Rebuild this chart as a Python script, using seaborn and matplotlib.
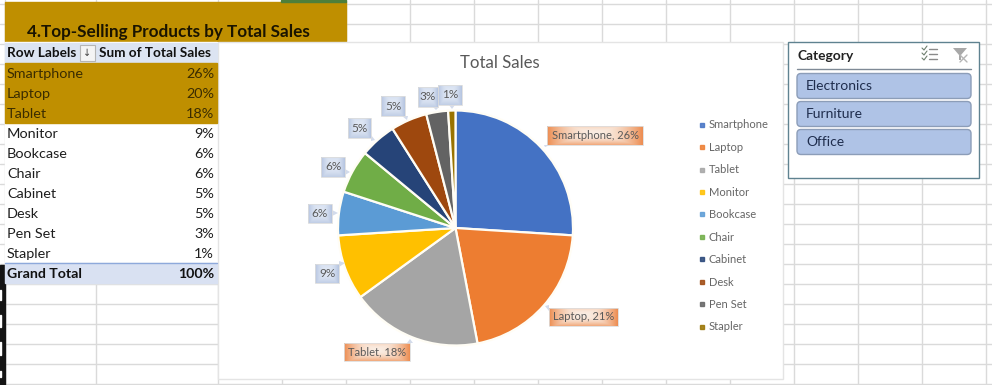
import numpy as np
import pandas as pd
import matplotlib
matplotlib.use('Agg')
import matplotlib.pyplot as plt
from matplotlib.patches import Rectangle, FancyBboxPatch, Polygon
from matplotlib.lines import Line2D
import seaborn as sns

# data
products = ['Smartphone', 'Laptop', 'Tablet', 'Monitor', 'Bookcase', 'Chair', 'Cabinet', 'Desk', 'Pen Set', 'Stapler']
table_pct = [26, 20, 18, 9, 6, 6, 5, 5, 3, 1]
chart_pct = [26, 21, 18, 9, 6, 6, 5, 5, 3, 1]
slicer_items = ['Electronics', 'Furniture', 'Office']
heading = '4.Top-Selling Products by Total Sales'
col_labels = ['Row Labels', 'Sum of Total Sales']
total_label = 'Grand Total'
total_value = '100%'
chart_title = 'Total Sales'
slicer_title = 'Category'
colors = ['#4472C4', '#ED7D31', '#A5A5A5', '#FFC000', '#5B9BD5', '#70AD47', '#264478', '#9E480E', '#636363', '#997300']

W, H = 992, 385
GOLD = '#BF8F00'
GRID = '#DADADA'
TXT = '#595959'

sns.set_theme(style='white')
plt.rcParams['font.family'] = ['Lato', 'DejaVu Sans']
palette = sns.color_palette(colors)
df = pd.DataFrame({'product': products, 'table': table_pct, 'chart': chart_pct})

fig = plt.figure(figsize=(W / 100, H / 100), dpi=100, facecolor='white')
# whole sheet in pixel coordinates
ax = fig.add_axes([0, 0, 1, 1])
ax.set_xlim(0, W)
ax.set_ylim(H, 0)
ax.axis('off')

# =============================================================================
# sheet grid
# =============================================================================
for y in range(3, H, 20):
    ax.plot([0, W], [y + 0.5, y + 0.5], color=GRID, lw=1, zorder=1)
for x in [5, 96] + list(range(218, W, 64)):
    ax.plot([x, x], [0, H], color=GRID, lw=1, zorder=1)

# left screen edge
ax.add_patch(Rectangle((0, 265), 5, 120, color='#141414', zorder=3))
for y0, y1 in [(290, 300), (315, 327), (342, 355), (371, 377)]:
    ax.add_patch(Rectangle((0, y0), 1.2, y1 - y0, color='white', zorder=4))

# =============================================================================
# heading + pivot table
# =============================================================================
ax.add_patch(Rectangle((5, 2), 341, 39, color=GOLD, zorder=2))
ax.add_patch(Rectangle((281, 0), 65, 2, color='#4E7F3A', zorder=2))
ax.text(27, 31.5, heading, fontsize=12.35, fontweight='bold', color='#1A1400', va='center', zorder=5)

ax.add_patch(Rectangle((5, 42), 212, 241, color='white', zorder=2))
ax.add_patch(Rectangle((5, 43), 212, 20, color='#DCE4F2', zorder=3))
ax.add_patch(Rectangle((5, 63), 212, 60, color=GOLD, zorder=3))
ax.add_patch(Rectangle((5, 263), 212, 20, color='#D9E1F2', zorder=3))
ax.plot([5, 217], [263, 263], color='#8EA9DB', lw=1, zorder=4)

ax.text(7, 53, col_labels[0], fontsize=9.8, fontweight='bold', color='#111111', va='center', zorder=5)
ax.text(211, 53, col_labels[1], fontsize=9.8, fontweight='bold', color='#111111', va='center', ha='right', zorder=5)
ax.add_patch(Rectangle((80, 45), 15, 16, fc='#F4F4F4', ec='#B5B5B5', lw=0.8, zorder=4))
ax.text(87.5, 53, '\u2193', fontsize=7, color='#444444', ha='center', va='center', zorder=5, family='DejaVu Sans')

for i, row in df.iterrows():
    yc = 73.5 + i * 20
    col = '#3A2C00' if i < 3 else '#1E1E1E'
    ax.text(7, yc, row['product'], fontsize=10.4, color=col, va='center', zorder=5)
    ax.text(214, yc, str(row['table']) + '%', fontsize=10.4, color=col, va='center', ha='right', zorder=5)
ax.text(7, 273.5, total_label, fontsize=10.2, fontweight='bold', color='#111111', va='center', zorder=5)
ax.text(214, 273.5, total_value, fontsize=10.2, fontweight='bold', color='#111111', va='center', ha='right', zorder=5)

# =============================================================================
# chart area
# =============================================================================
ax.add_patch(Rectangle((218, 42), 565, 337, fc='white', ec='#E4E4E4', lw=1, zorder=2))
ax.text(500, 63.5, chart_title, fontsize=12.1, color=TXT, ha='center', va='center', zorder=5)

# pie in its own square axes
cx, cy, r = 455.5, 228, 117.5
pie_ax = fig.add_axes([(cx - r) / W, 1 - (cy + r) / H, 2 * r / W, 2 * r / H], zorder=3)
wedges, _ = pie_ax.pie(df['chart'], colors=palette, startangle=90, counterclock=False,
                       radius=1, wedgeprops={'edgecolor': '#FFFDF5', 'linewidth': 1.6})
pie_ax.set_xlim(-1, 1)
pie_ax.set_ylim(-1, 1)
pie_ax.patch.set_alpha(0)
for w in wedges:
    w.set_clip_on(False)

# gradient callouts, pale in the middle and coloured toward the edges
label_boxes = [(547, 643, 126, 145), (549, 618, 308, 326), (344, 410, 343, 361), (315, 339, 264, 283),
               (308, 332, 204, 223), (321, 345, 157, 177), (348, 371, 118, 138), (381, 405, 96, 116),
               (418, 438, 87, 107), (438, 462, 85, 105)]
label_anchor = [(545, 147), (545, 306), (410, 339), (345, 263), (338, 213), (350, 172), (375, 140), (407, 120), (436, 110), (452, 109)]

def callout(box, text, rgb, mid, anchor, order, fs):
    x0, x1, y0, y1 = box
    gx = np.abs(np.linspace(-1, 1, 60))[None, :]
    gy = np.linspace(-0.6, 1, 20)[:, None]
    a = np.clip(np.maximum(gx ** 2, np.abs(gy) ** 2 * 0.7), 0, 1)
    img = np.ones((20, 60, 3))
    for c in range(3):
        img[:, :, c] = mid[c] + (rgb[c] - mid[c]) * a
    ax2.imshow(img, extent=(x0, x1, y1, y0), aspect='auto', zorder=order, interpolation='bilinear')
    ax2.add_patch(Rectangle((x0, y0), x1 - x0, y1 - y0, fc='none', ec='#DDDDDD', lw=0.6, zorder=order + 0.1))
    xm = min(max(anchor[0], x0), x1)
    ym = min(max(anchor[1], y0), y1)
    # small pointer toward the slice
    if abs(xm - anchor[0]) > abs(ym - anchor[1]):
        base = [(xm, ym - 3), (xm, ym + 3)]
    else:
        base = [(xm - 3, ym), (xm + 3, ym)]
    ax2.add_patch(Polygon(base + [anchor], fc='#D3DBEB', ec='none', zorder=order - 0.1))
    ax2.text((x0 + x1) / 2, (y0 + y1) / 2, text, fontsize=fs, color=TXT, ha='center', va='center', zorder=order + 0.2)

# overlay so the labels sit above the pie
ax2 = fig.add_axes([0, 0, 1, 1], zorder=4)
ax2.patch.set_alpha(0)
ax2.axis('off')
for i, p in enumerate(products):
    if i < 3:
        txt = '%s, %d%%' % (p, chart_pct[i])
        callout(label_boxes[i], txt, (0.93, 0.56, 0.33), (0.98, 0.93, 0.89), label_anchor[i], 5 + i, 8)
    else:
        txt = '%d%%' % chart_pct[i]
        callout(label_boxes[i], txt, (0.71, 0.77, 0.88), (0.88, 0.91, 0.96), label_anchor[i], 5 + i, 8.5)
ax2.set_xlim(0, W)
ax2.set_ylim(H, 0)

# legend
handles = [Line2D([], [], marker='s', ls='', ms=2.8, color=c, alpha=0.85) for c in palette]
ax2.legend(handles, products, loc='upper left', bbox_to_anchor=(696.5, 119.5), bbox_transform=ax2.transData,
           frameon=False, fontsize=8, labelcolor='#666666', labelspacing=1.03, handletextpad=0.1,
           handlelength=1.0, borderpad=0, borderaxespad=0)

# =============================================================================
# slicer
# =============================================================================
ax2.add_patch(Rectangle((788, 42), 191, 136, fc='white', ec='#5F8290', lw=1, zorder=5))
ax2.text(797, 56, slicer_title, fontsize=9.9, fontweight='bold', color='#222222', va='center', zorder=6)
ax2.plot([797, 971], [68.5, 68.5], color='#7F8A96', lw=1, zorder=6)
for i, item in enumerate(slicer_items):
    y0 = 73.5 + i * 28
    ax2.add_patch(FancyBboxPatch((798, y0 + 1), 172, 23, boxstyle='round,pad=1,rounding_size=4',
                                 fc='#AFC3E6', ec='#8C9DB8', lw=1, zorder=6))
    ax2.text(806, y0 + 12.5, item, fontsize=10, color='#1F2D4D', va='center', zorder=7)

# slicer icons
for y in [49, 54, 59]:
    ax2.plot([922, 924, 927], [y - 1, y + 1, y - 3], color='#6F7F6F', lw=0.8, zorder=7)
    ax2.plot([929, 937], [y, y], color='#8A8A8A', lw=1, zorder=7)
ax2.add_patch(Polygon([(953, 48), (967, 48), (961, 55), (961, 60), (959, 60), (959, 55)], fc='#A8A8A8', ec='none', zorder=7))
ax2.plot([960, 967], [55, 62], color='#B5B5B5', lw=1, zorder=8)
ax2.plot([967, 960], [55, 62], color='#B5B5B5', lw=1, zorder=8)

plt.savefig('out.png', dpi=100)
plt.close('all')
